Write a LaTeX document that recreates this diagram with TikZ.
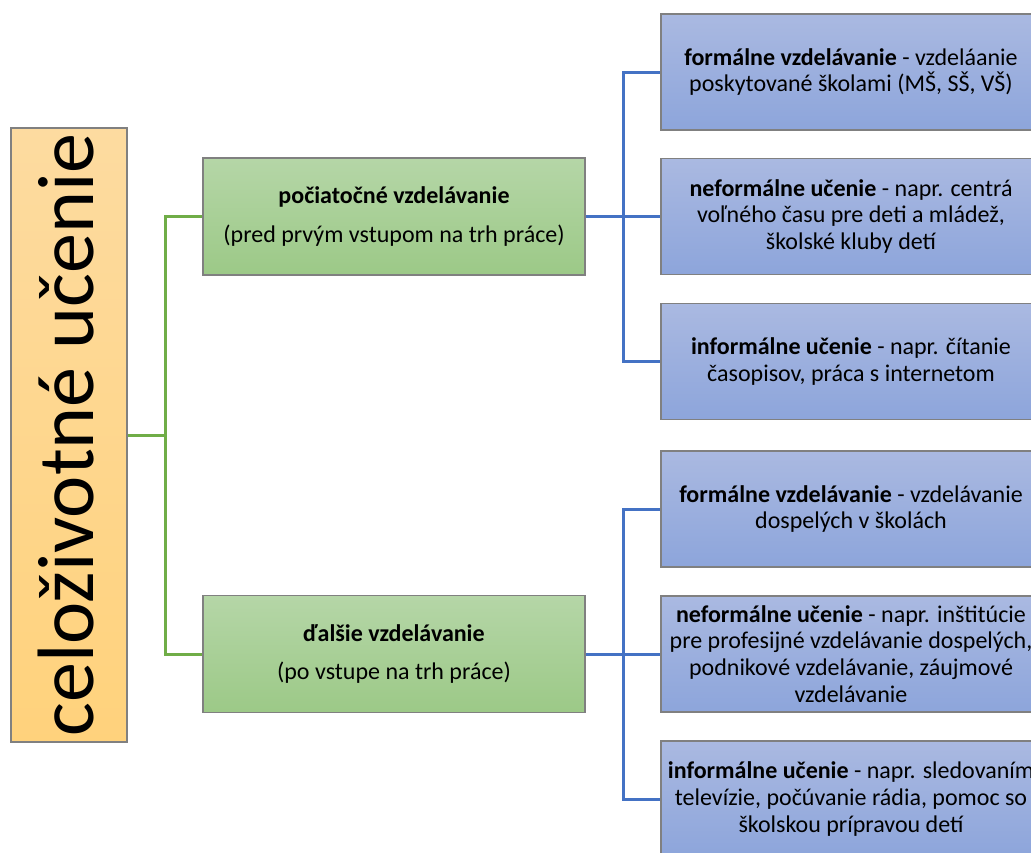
\documentclass[tikz,border=0pt]{standalone}
\usepackage{fontspec}
\setmainfont{Carlito}
\begin{document}
\begin{tikzpicture}[x=1pt,y=-1pt,
  box/.style={draw=black!50, line width=1.5pt, inner sep=0pt, align=center,
    font=\fontsize{24}{26.7}\selectfont},
  rootbox/.style={box, minimum width=116, minimum height=614},
  midbox/.style={box, minimum width=382, minimum height=117,
    top color=mTop, bottom color=mBot},
  leafbox/.style={box, minimum width=380, minimum height=116,
    top color=lfTop, bottom color=lfBot},
  glink/.style={draw=gLine, line width=3pt},
  blink/.style={draw=bLine, line width=3pt}]
\definecolor{lfTop}{HTML}{AAB9E1}
\definecolor{lfBot}{HTML}{8DA5DB}
\definecolor{gLine}{HTML}{70AD47}
\definecolor{bLine}{HTML}{4472C4}
\definecolor{rTop}{HTML}{FDDBA0}
\definecolor{rBot}{HTML}{FFD27C}
\definecolor{mTop}{HTML}{B5D6A7}
\definecolor{mBot}{HTML}{9CC987}
\useasboundingbox (0,0) rectangle (1031,852);
\clip (0,0) rectangle (1031,852);

% root column
\node[rootbox, top color=rTop, bottom color=rBot] (root) at (69,435) {};
\node[rotate=90, anchor=base, font=\fontsize{80}{80}\selectfont] (rootlabel) at (93,435) {celoživotné učenie};

% two stages of education
\node[midbox] (g1) at (394,216.5)
  {\textbf{počiatočné vzdelávanie}\\[12pt](pred prvým vstupom na trh práce)};
\node[midbox] (g2) at (394,654)
  {\textbf{ďalšie vzdelávanie}\\[12pt](po vstupe na trh práce)};

% forms of learning
\node[leafbox] (b1) at (851,72)
  {\textbf{formálne vzdelávanie} - vzdeláanie\\poskytované školami (MŠ, SŠ, VŠ)};
\node[leafbox] (b2) at (851,216.5)
  {\textbf{neformálne učenie} - napr. centrá\\voľného času pre deti a mládež,\\školské kluby detí};
\node[leafbox] (b3) at (851,361.5)
  {\textbf{informálne učenie} - napr. čítanie\\časopisov, práca s internetom};
\node[leafbox] (b4) at (851,509)
  {\textbf{formálne vzdelávanie} - vzdelávanie\\dospelých v školách};
\node[leafbox] (b5) at (851,654)
  {\textbf{neformálne učenie} - napr. inštitúcie\\pre profesijné vzdelávanie dospelých,\\podnikové vzdelávanie, záujmové\\vzdelávanie};
\node[leafbox] (b6) at (851,799)
  {\textbf{informálne učenie} - napr. sledovaním\\televízie, počúvanie rádia, pomoc so\\školskou prípravou detí};

% junction points
\coordinate (j0) at (165,435);
\coordinate (j1) at (623,216.5);
\coordinate (j2) at (623,654);

% connectors
\draw[glink] (root.east) -- (j0);
\draw[glink] (j0) |- (g1.west);
\draw[glink] (j0) |- (g2.west);
\draw[blink] (g1.east) -- (j1);
\draw[blink] (j1) |- (b1.west);
\draw[blink] (j1) |- (b2.west);
\draw[blink] (j1) |- (b3.west);
\draw[blink] (g2.east) -- (j2);
\draw[blink] (j2) |- (b4.west);
\draw[blink] (j2) |- (b5.west);
\draw[blink] (j2) |- (b6.west);
\end{tikzpicture}
\end{document}
